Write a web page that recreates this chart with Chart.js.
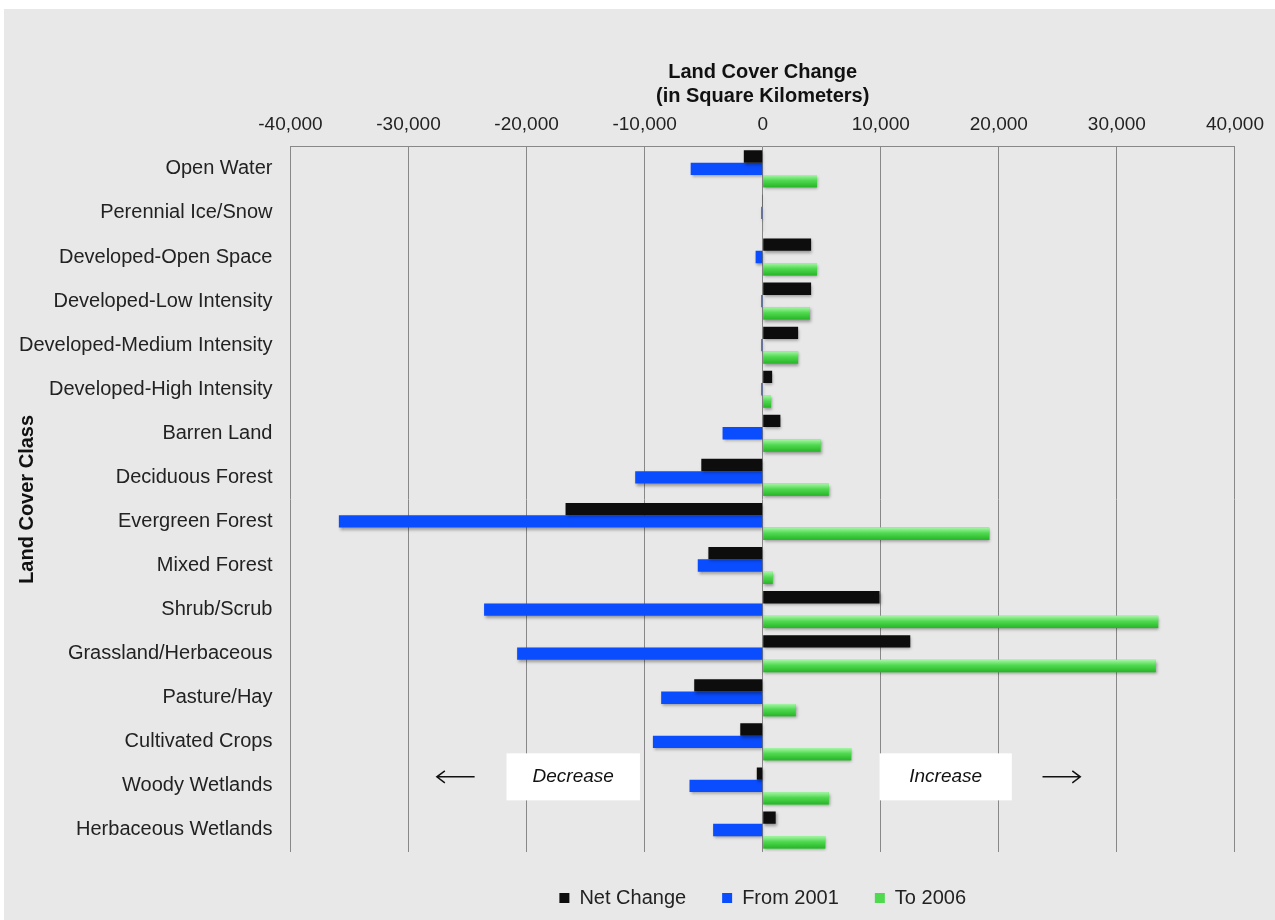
<!DOCTYPE html>
<html>
<head>
<meta charset="utf-8">
<script src="https://cdn.jsdelivr.net/npm/chart.js@4.4.1/dist/chart.umd.min.js"></script>
<style>
  html, body { margin: 0; padding: 0; background: #ffffff; }
  #wrap { position: absolute; left: 4px; top: 9px; width: 1271px; height: 911px; background: #e8e8e8; }
</style>
</head>
<body>
<div id="wrap"><canvas id="chart" width="1271" height="911"></canvas></div>
<script>
// Categories (top to bottom)
const classes = [
    "Open Water", "Perennial Ice/Snow", "Developed-Open Space", "Developed-Low Intensity",
    "Developed-Medium Intensity", "Developed-High Intensity", "Barren Land", "Deciduous Forest",
    "Evergreen Forest", "Mixed Forest", "Shrub/Scrub", "Grassland/Herbaceous",
    "Pasture/Hay", "Cultivated Crops", "Woody Wetlands", "Herbaceous Wetlands"
];

// Values in square kilometers
const netChange = [-1600, -60, 4100, 4100, 3000, 800, 1500, -5200, -16700, -4600, 9900, 12500, -5800, -1900, -500, 1100];
const from2001 = [-6100, -120, -600, -120, -120, -120, -3400, -10800, -35900, -5500, -23600, -20800, -8600, -9300, -6200, -4200];
const to2006 = [4600, 30, 4600, 4000, 3000, 700, 4900, 5600, 19200, 850, 33500, 33300, 2800, 7500, 5600, 5300];

const xTicks = [-40000, -30000, -20000, -10000, 0, 10000, 20000, 30000, 40000];

const FONT = "'Liberation Sans', Arial, sans-serif";

// Shadow under bars
const barShadow = {
    id: 'barShadow',
    beforeDatasetsDraw(chart) {
        const ctx = chart.ctx;
        ctx.save();
        ctx.shadowColor = 'rgba(0,0,0,0.35)';
        ctx.shadowBlur = 3;
        ctx.shadowOffsetX = 1;
        ctx.shadowOffsetY = 2;
    },
    afterDatasetsDraw(chart) {
        chart.ctx.restore();
    }
};

// Glossy gradient on green bars, y title, Decrease/Increase notes
const extras = {
    id: 'extras',
    afterDatasetsDraw(chart) {
        const ctx = chart.ctx;
        const meta = chart.getDatasetMeta(2);
        meta.data.forEach(bar => {
            const w = bar.x - bar.base;
            if (Math.abs(w) < 1) return;
            const top = bar.y - bar.height / 2;
            const g = ctx.createLinearGradient(0, top, 0, top + bar.height);
            g.addColorStop(0, '#a6f5a6');
            g.addColorStop(0.45, '#4fd94f');
            g.addColorStop(1, '#27b427');
            ctx.fillStyle = g;
            ctx.fillRect(Math.min(bar.base, bar.x), top, Math.abs(w), bar.height);
        });

        const x = chart.scales.x;
        const y = chart.scales.y;
        const area = chart.chartArea;

        // axis title on the left
        ctx.save();
        ctx.translate(23, (area.top + area.bottom) / 2);
        ctx.rotate(-Math.PI / 2);
        ctx.fillStyle = '#111111';
        ctx.font = 'bold 20px ' + FONT;
        ctx.textAlign = 'center';
        ctx.textBaseline = 'middle';
        ctx.fillText('Land Cover Class', 0, 0);
        ctx.restore();

        const yc = (y.getPixelForValue(13) + y.getPixelForValue(14)) / 2 + 13;
        const boxH = 47;
        const notes = [
            { text: 'Decrease', from: -21700, to: -10400 },
            { text: 'Increase', from: 9900, to: 21100 }
        ];
        ctx.save();
        notes.forEach(n => {
            const x0 = x.getPixelForValue(n.from);
            const x1 = x.getPixelForValue(n.to);
            ctx.fillStyle = '#ffffff';
            ctx.fillRect(x0, yc - boxH / 2, x1 - x0, boxH);
            ctx.fillStyle = '#111111';
            ctx.font = 'italic 19px ' + FONT;
            ctx.textAlign = 'center';
            ctx.textBaseline = 'middle';
            ctx.fillText(n.text, (x0 + x1) / 2, yc);
        });
        // arrows
        ctx.strokeStyle = '#111111';
        ctx.lineWidth = 1.5;
        const arrows = [
            { from: -24400, to: -27600 },
            { from: 23700, to: 26900 }
        ];
        arrows.forEach(a => {
            const xa = x.getPixelForValue(a.from);
            const xb = x.getPixelForValue(a.to);
            const d = xb > xa ? 1 : -1;
            ctx.beginPath();
            ctx.moveTo(xa, yc);
            ctx.lineTo(xb, yc);
            ctx.moveTo(xb - d * 8, yc - 6);
            ctx.lineTo(xb, yc);
            ctx.lineTo(xb - d * 8, yc + 6);
            ctx.stroke();
        });
        ctx.restore();
    }
};

const ctx = document.getElementById('chart').getContext('2d');
new Chart(ctx, {
    type: 'bar',
    data: {
        labels: classes,
        datasets: [
            { label: 'Net Change', data: netChange, backgroundColor: '#0d0d0d' },
            { label: 'From 2001', data: from2001, backgroundColor: '#0a4dff' },
            { label: 'To 2006', data: to2006, backgroundColor: '#4fd94f' }
        ]
    },
    options: {
        indexAxis: 'y',
        responsive: false,
        animation: false,
        datasets: {
            bar: { categoryPercentage: 0.84, barPercentage: 1.0, borderWidth: 0 }
        },
        layout: { padding: { left: 5, right: 6, top: 51, bottom: 2 } },
        plugins: {
            legend: {
                position: 'bottom',
                fullSize: false,
                labels: {
                    font: { family: FONT, size: 20 },
                    color: '#222',
                    boxWidth: 10,
                    boxHeight: 10,
                    padding: 36
                }
            },
            tooltip: { enabled: false }
        },
        scales: {
            x: {
                position: 'top',
                min: -40000,
                max: 40000,
                afterBuildTicks(axis) {
                    axis.ticks = xTicks.map(v => ({ value: v }));
                },
                ticks: {
                    font: { family: FONT, size: 19 },
                    color: '#222',
                    padding: 11,
                    maxRotation: 0,
                    callback: v => v.toLocaleString('en-US')
                },
                grid: { color: '#888888', lineWidth: 1, drawTicks: false },
                border: { display: true, color: '#888888' },
                title: {
                    display: true,
                    text: ['Land Cover Change', '(in Square Kilometers)'],
                    font: { family: FONT, size: 20, weight: 'bold' },
                    color: '#111',
                    padding: { top: 0, bottom: -6 }
                }
            },
            y: {
                ticks: {
                    font: { family: FONT, size: 20 },
                    color: '#222',
                    padding: 10
                },
                grid: { display: false, drawTicks: true, tickLength: 8 },
                border: { display: false }
            }
        }
    },
    plugins: [barShadow, extras]
});
</script>
</body>
</html>
